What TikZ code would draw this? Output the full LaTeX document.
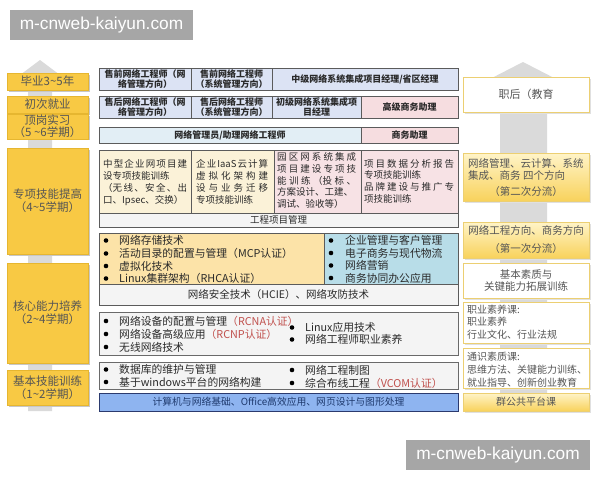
\documentclass[tikz,border=0pt]{standalone}
\usepackage{fontspec}
\newfontfamily\cjk{Noto Sans CJK SC}
\newfontfamily\wmfont{Liberation Sans}
\usetikzlibrary{shadows}
\definecolor{bordc}{HTML}{5B5B5B}
\definecolor{bordd}{HTML}{6A6A6A}
\definecolor{blueA}{HTML}{DCE3F4}
\definecolor{pinkA}{HTML}{F6DDE0}
\definecolor{cyanA}{HTML}{E2EEF5}
\definecolor{creamA}{HTML}{FBF2D8}
\definecolor{pinkB}{HTML}{F7E2E5}
\definecolor{grayA}{HTML}{F4F4F4}
\definecolor{orangeA}{HTML}{FCE3A8}
\definecolor{tealA}{HTML}{B8DDE8}
\definecolor{bluebar}{HTML}{8EB4F0}
\definecolor{navyA}{HTML}{2B3A6E}
\definecolor{navyT}{HTML}{1F3A6E}
\definecolor{goldfill}{HTML}{F8C944}
\definecolor{goldline}{HTML}{E6B630}
\definecolor{rline}{HTML}{ECCF72}
\definecolor{ytop}{HTML}{FFF4C8}
\definecolor{ybot}{HTML}{F8D25C}
\definecolor{shaftc}{HTML}{DADADA}
\definecolor{txtA}{HTML}{2A2A2A}
\definecolor{txtL}{HTML}{555555}
\definecolor{redT}{HTML}{C0504D}
\definecolor{wmgray}{HTML}{A6A6A6}
\newcommand\Cell[7][]{%
  \pgfmathsetmacro\cellW{#5-#3}\pgfmathsetmacro\cellH{#6-#4}%
  \node[cellbase,#1,minimum width=\cellW pt,minimum height=\cellH pt] (#2) at ({(#3+#5)/2},{(#4+#6)/2}) {#7};}
\newcommand\Item[5]{%
  \node[bul] (#1b) at (#2,#4) {};
  \node[itm] (#1) at (#3,#4) {#5};}
\newcommand\J[2]{\makebox[#1pt][s]{#2}}
\begin{document}
\begin{tikzpicture}[x=1pt,y=-1pt,
  every node/.style={font=\cjk},
  cellbase/.style={draw=bordc,line width=0.7pt,inner sep=1pt,align=center,text=txtA},
  topf/.style={font=\cjk\bfseries\fontsize{9}{10.5}\selectfont},
  midf/.style={font=\cjk\fontsize{9.5}{12}\selectfont},
  cellt/.style={anchor=north west,inner sep=0pt,align=left,text=txtA,font=\cjk\fontsize{9.5}{12.2}\selectfont},
  bul/.style={circle,fill=black,inner sep=0pt,minimum size=4.6pt},
  itm/.style={anchor=west,inner sep=0pt,text=txtA,font=\cjk\fontsize{10.8}{12}\selectfont},
  lbox/.style={cellbase,fill=goldfill,draw=goldline,line width=0.5pt,text=txtL,
     font=\cjk\fontsize{11.5}{13}\selectfont,
     general shadow={fill=black!22,shadow xshift=1.5pt,shadow yshift=-1.5pt}},
  rwhite/.style={cellbase,fill=white,draw=rline,line width=0.9pt,text=txtL,
     general shadow={fill=black!12,shadow xshift=1.5pt,shadow yshift=-1.5pt}},
  ryellow/.style={cellbase,top color=ytop,bottom color=ybot,draw=rline,line width=0.9pt,text=txtL,
     general shadow={fill=black!12,shadow xshift=1.5pt,shadow yshift=-1.5pt}},
  rtxt/.style={anchor=west,inner sep=0pt,text=txtL,font=\cjk\fontsize{10}{12}\selectfont},
  wmbox/.style={fill=wmgray,text=white,inner sep=0pt,font=\wmfont\fontsize{17.3}{20}\selectfont}
]
\useasboundingbox (0,0) rectangle (600,480);
\fill[white] (0,0) rectangle (600,480);
% background arrows
\fill[shaftc] (28,411) -- (28,78) -- (16,78) -- (40,60) -- (64,78) -- (52,78) -- (52,411) -- cycle;
\fill[shaftc] (500,411) -- (500,80) -- (488,80) -- (523,62) -- (558,80) -- (547,80) -- (547,411) -- cycle;
% watermarks
\node[wmbox,minimum width=183pt,minimum height=30pt] (wm1) at (101.5,25) {m-cnweb-kaiyun.com};
\node[wmbox,minimum width=184pt,minimum height=30pt] (wm2) at (498,455) {m-cnweb-kaiyun.com};
% left column
\Cell[lbox]{l1}{7}{73}{88}{90}{毕业3\textasciitilde5年}
\Cell[lbox]{l2}{7}{96}{88}{113}{初次就业}
\Cell[lbox,font=\cjk\fontsize{11.5}{10.5}\selectfont]{l3}{7}{115}{88}{138}{顶岗实习\\（5 \textasciitilde6学期）}
\Cell[lbox]{l4}{7}{148}{88}{254}{专项技能提高\\（4\textasciitilde5学期）}
\Cell[lbox]{l5}{7}{263}{88}{363}{核心能力培养\\（2\textasciitilde4学期）}
\Cell[lbox]{l6}{7}{370}{88}{405}{基本技能训练\\（1\textasciitilde2学期）}
% top rows
\Cell[topf,fill=blueA]{r1a}{99}{68}{191}{90}{售前网络工程师（网\\络管理方向）}
\Cell[topf,fill=blueA]{r1b}{191}{68}{272}{90}{售前网络工程师\\（系统管理方向）}
\Cell[topf,fill=blueA]{r1c}{272}{68}{458}{90}{中级网络系统集成项目经理/省区经理}
\Cell[topf,fill=blueA]{r2a}{99}{96}{191}{118}{售后网络工程师（网\\络管理方向）}
\Cell[topf,fill=blueA]{r2b}{191}{96}{272}{118}{售后网络工程师\\（系统管理方向）}
\Cell[topf,fill=blueA]{r2c}{272}{96}{361}{118}{初级网络系统集成项\\目经理}
\Cell[topf,fill=pinkA]{r2d}{361}{96}{458}{118}{高级商务助理}
\Cell[topf,fill=cyanA]{r3a}{99}{127}{361}{143}{网络管理员/助理网络工程师}
\Cell[topf,fill=pinkA]{r3b}{361}{127}{458}{143}{商务助理}
% special skills
\Cell[fill=creamA]{s1}{99}{150}{191}{213}{}
\Cell[fill=creamA]{s2}{191}{150}{274}{213}{}
\Cell[fill=pinkB]{s3}{274}{150}{361}{213}{}
\Cell[fill=pinkB]{s4}{361}{150}{458}{213}{}
\Cell[midf,fill=grayA]{s5}{99}{213}{458}{227}{工程项目管理}
\node[cellt] (s1t) at (103,159) {\J{84}{中\hfil 型\hfil 企\hfil 业\hfil 网\hfil 项\hfil 目\hfil 建}\\设专项技能训练\\\J{84}{（无\hfil 线\hfil 、\hfil 安\hfil 全\hfil 、\hfil 出}\\口、Ipsec、交换）};
\node[cellt] (s2t) at (196,159) {\J{72}{企\hfil 业\hfil IaaS\hfil 云\hfil 计\hfil 算}\\\J{72}{虚\hfil 拟\hfil 化\hfil 架\hfil 构\hfil 建}\\\J{72}{设\hfil 与\hfil 业\hfil 务\hfil 迁\hfil 移}\\专项技能训练};
\node[cellt,font=\cjk\fontsize{9.5}{11.7}\selectfont] (s3t) at (277,152.5) {\J{79}{园\hfil 区\hfil 网\hfil 系\hfil 统\hfil 集\hfil 成}\\\J{79}{项\hfil 目\hfil 建\hfil 设\hfil 专\hfil 项\hfil 技}\\\J{79}{能\hfil 训\hfil 练\hfil （投\hfil 标\hfil 、}\\方案设计、工建、\\调试、验收等）};
\node[cellt,font=\cjk\fontsize{9.5}{11.7}\selectfont] (s4t) at (364,159) {\J{90}{项\hfil 目\hfil 数\hfil 据\hfil 分\hfil 析\hfil 报\hfil 告}\\专项技能训练\\\J{90}{品\hfil 牌\hfil 建\hfil 设\hfil 与\hfil 推\hfil 广\hfil 专}\\项技能训练};
% core
\Cell[fill=orangeA]{c1}{99}{233}{324}{284}{}
\Cell[fill=tealA]{c2}{324}{233}{458}{284}{}
\Cell[fill=grayA,font=\cjk\fontsize{10.5}{12}\selectfont]{c3}{99}{284}{458}{305}{网络安全技术（HCIE）、网络攻防技术}
\Item{ca}{106}{119}{240.5}{网络存储技术}
\Item{cb}{106}{119}{253.5}{活动目录的配置与管理（MCP认证）}
\Item{cc}{106}{119}{266}{虚拟化技术}
\Item{cd}{106}{119}{278.5}{Linux集群架构（RHCA认证）}
\Item{ce}{331}{345}{240.5}{企业管理与客户管理}
\Item{cf}{331}{345}{253}{电子商务与现代物流}
\Item{cg}{331}{345}{265.5}{网络营销}
\Item{ch}{331}{345}{278}{商务协同办公应用}
% network devices
\Cell[fill=grayA,draw=bordd,line width=1pt]{d1}{99}{312}{458}{355}{}
\Item{da}{106}{119}{321}{网络设备的配置与管理{\color{redT}（RCNA认证）}}
\Item{db}{106}{119}{334}{网络设备高级应用{\color{redT}（RCNP认证）}}
\Item{dc}{106}{119}{347}{无线网络技术}
\Item{dd}{292}{305}{327.5}{Linux应用技术}
\Item{de}{292}{305}{339.5}{网络工程师职业素养}
% basics
\Cell[fill=grayA,draw=bordd,line width=1pt]{e1}{99}{362}{458}{389}{}
\Item{ea}{106}{119}{369.5}{数据库的维护与管理}
\Item{eb}{106}{119}{382}{基于windows平台的网络构建}
\Item{ec}{292}{305}{370}{网络工程制图}
\Item{ed}{292}{305}{383}{综合布线工程{\color{redT}（VCOM认证）}}
\Cell[fill=bluebar,draw=navyA,line width=1pt,text=navyT,font=\cjk\fontsize{9.8}{12}\selectfont]{f1}{99}{393}{458}{411}{计算机与网络基础、Office高效应用、网页设计与图形处理}
% right column
\Cell[rwhite,font=\cjk\fontsize{11}{13}\selectfont]{p1}{463}{77}{589}{112}{职后（教育}
\Cell[ryellow]{p2}{463}{153}{589}{201}{}
\node[rtxt,font=\cjk\fontsize{10.5}{12}\selectfont] (p2a) at (468,163) {网络管理、云计算、系统};
\node[rtxt,font=\cjk\fontsize{10.5}{12}\selectfont] (p2b) at (468,175.5) {集成、商务 四个方向};
\node[inner sep=0pt,text=txtL,font=\cjk\fontsize{10.5}{12}\selectfont] (p2c) at (526,192) {（第二次分流）};
\Cell[ryellow,font=\cjk\fontsize{10.5}{18}\selectfont]{p3}{463}{222}{589}{258}{网络工程方向、商务方向\\（第一次分流）}
\Cell[rwhite,font=\cjk\fontsize{10.5}{12.5}\selectfont]{p4}{463}{263}{589}{298}{基本素质与\\关键能力拓展训练}
\Cell[rwhite]{p5}{463}{302}{589}{343}{}
\node[rtxt] (p5a) at (467,310) {职业素养课:};
\node[rtxt] (p5b) at (467,321.5) {职业素养};
\node[rtxt] (p5c) at (467,335) {行业文化、行业法规};
\Cell[rwhite]{p6}{463}{348}{589}{388}{}
\node[rtxt] (p6a) at (467,357) {通识素质课:};
\node[rtxt] (p6b) at (467,370) {思维方法、关键能力训练、};
\node[rtxt] (p6c) at (467,383) {就业指导、创新创业教育};
\Cell[ryellow,font=\cjk\fontsize{10}{12}\selectfont]{p7}{463}{393}{589}{411}{群公共平台课}
\end{tikzpicture}
\end{document}
